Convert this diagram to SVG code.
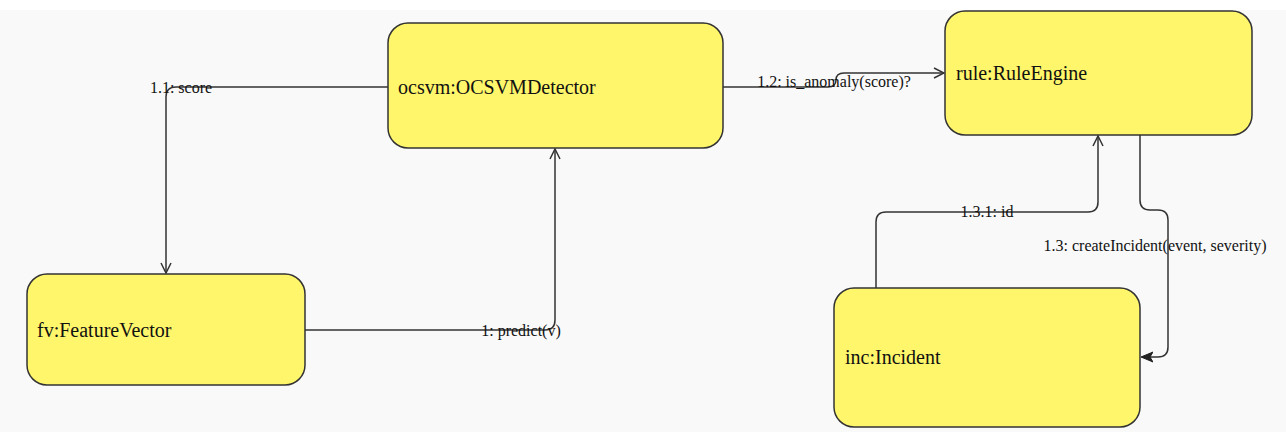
<svg xmlns="http://www.w3.org/2000/svg" width="1286" height="432" viewBox="0 0 1286 432">
  <style>
    .node rect { fill: #fff66b; stroke: #333; stroke-width: 1.5; }
    .node text { font-family: "Liberation Serif", "Times New Roman", serif; font-size: 20px; fill: #111; }
    .edge { fill: none; stroke: #333; stroke-width: 1.5; }
    .lbl { font-family: "Liberation Serif", "Times New Roman", serif; font-size: 16px; fill: #111; text-anchor: middle; }
  </style>
  <defs>
    <marker id="open" viewBox="0 0 12 12" refX="11" refY="6" markerWidth="12" markerHeight="12" markerUnits="userSpaceOnUse" orient="auto">
      <path d="M1,1 L11,6 L1,11" fill="none" stroke="#333" stroke-width="1.5"/>
    </marker>
    <marker id="solid" viewBox="0 0 12 12" refX="11" refY="6" markerWidth="12" markerHeight="12" markerUnits="userSpaceOnUse" orient="auto">
      <path d="M0,1 L12,6 L0,11 L3,6 Z" fill="#222" stroke="#222" stroke-width="1"/>
    </marker>
  </defs>

  <!-- canvas -->
  <rect x="0" y="0" width="1286" height="432" fill="#f9f9f9"/>
  <rect x="0" y="0" width="1286" height="10" fill="#ffffff"/>

  <!-- nodes -->
  <g id="ocsvm" class="node">
    <rect x="388" y="23" width="335" height="125" rx="20" ry="20"/>
    <text x="398" y="94">ocsvm:OCSVMDetector</text>
  </g>
  <g id="rule" class="node">
    <rect x="945" y="11" width="307" height="124" rx="20" ry="20"/>
    <text x="956" y="80">rule:RuleEngine</text>
  </g>
  <g id="fv" class="node">
    <rect x="27" y="274" width="278" height="111" rx="20" ry="20"/>
    <text x="37" y="337">fv:FeatureVector</text>
  </g>
  <g id="inc" class="node">
    <rect x="834" y="288" width="306" height="139" rx="20" ry="20"/>
    <text x="845" y="364">inc:Incident</text>
  </g>

  <!-- connectors -->
  <g id="edges">
    <!-- 1: predict(v) -->
    <path class="edge" d="M305,330 L545,330 Q555,330 555,320 L555,149" marker-end="url(#open)"/>
    <text class="lbl" x="521" y="336">1: predict(v)</text>

    <!-- 1.1: score -->
    <path class="edge" d="M388,87 L176,87 Q166,87 166,97 L166,273" marker-end="url(#open)"/>
    <text class="lbl" x="181" y="93">1.1: score</text>

    <!-- 1.2: is_anomaly(score)? -->
    <path class="edge" d="M723,87 L828,87 Q836,87 836,80 Q836,73 844,73 L944,73" marker-end="url(#open)"/>
    <text class="lbl" x="834" y="87">1.2: is_anomaly(score)?</text>

    <!-- 1.3.1: id -->
    <path class="edge" d="M876,288 L876,222 Q876,212 886,212 L1088,212 Q1098,212 1098,202 L1098,136" marker-end="url(#open)"/>
    <text class="lbl" x="987" y="217">1.3.1: id</text>

    <!-- 1.3: createIncident(event, severity) -->
    <path class="edge" d="M1140,135 L1140,200 Q1140,210 1150,210 L1158,210 Q1168,210 1168,220 L1168,347 Q1168,357 1158,357 L1142,357" marker-end="url(#solid)"/>
    <text class="lbl" x="1155" y="251">1.3: createIncident(event, severity)</text>
  </g>
</svg>
